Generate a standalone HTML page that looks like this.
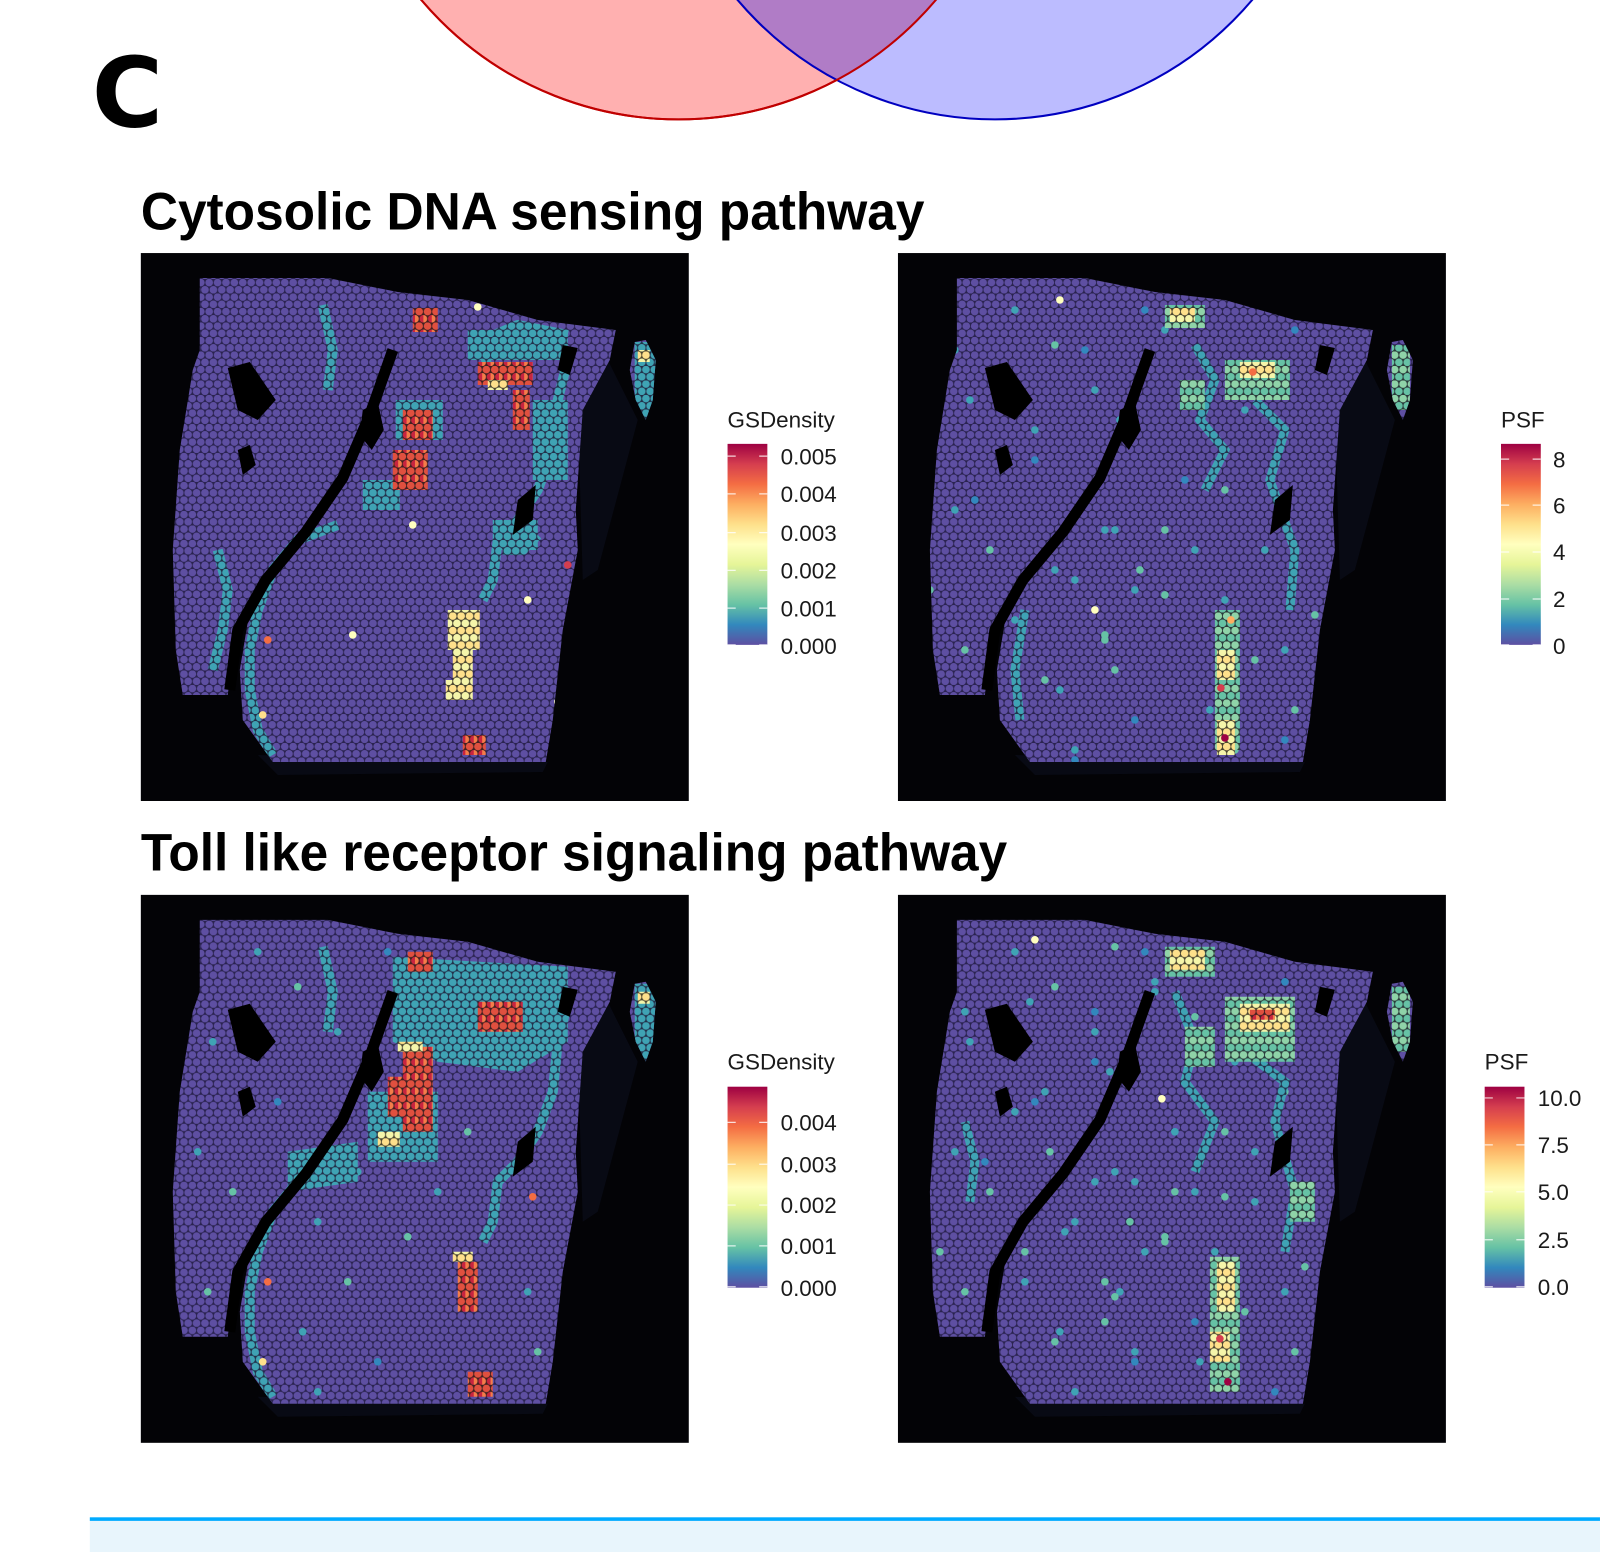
<!DOCTYPE html>
<html><head><meta charset="utf-8"><style>html,body{margin:0;padding:0;background:#fff}svg{display:block}</style></head>
<body>
<svg width="1600" height="1552" viewBox="0 0 1568 1521" xmlns="http://www.w3.org/2000/svg" font-family="Liberation Sans, Arial, sans-serif">
<defs>
<pattern id="pP" patternUnits="userSpaceOnUse" width="8.4" height="14.5"><rect width="8.4" height="14.5" fill="#2a2350"/><circle cx="4.2" cy="3.6" r="3.8" fill="#5E4FA2"/><circle cx="0" cy="10.85" r="3.8" fill="#5E4FA2"/><circle cx="8.4" cy="10.85" r="3.8" fill="#5E4FA2"/></pattern>
<pattern id="pT" patternUnits="userSpaceOnUse" width="8.4" height="14.5"><rect width="8.4" height="14.5" fill="#22304a"/><circle cx="4.2" cy="3.6" r="3.8" fill="#3FA3B4"/><circle cx="0" cy="10.85" r="3.8" fill="#3FA3B4"/><circle cx="8.4" cy="10.85" r="3.8" fill="#3FA3B4"/></pattern>
<pattern id="pG" patternUnits="userSpaceOnUse" width="8.4" height="14.5"><rect width="8.4" height="14.5" fill="#2a3a3a"/><circle cx="4.2" cy="3.6" r="3.8" fill="#8FD3A8"/><circle cx="0" cy="10.85" r="3.8" fill="#66C2A5"/><circle cx="8.4" cy="10.85" r="3.8" fill="#66C2A5"/></pattern>
<pattern id="pY" patternUnits="userSpaceOnUse" width="8.4" height="14.5"><rect width="8.4" height="14.5" fill="#4a4530"/><circle cx="4.2" cy="3.6" r="3.8" fill="#FEE08B"/><circle cx="0" cy="10.85" r="3.8" fill="#F5F5AA"/><circle cx="8.4" cy="10.85" r="3.8" fill="#F5F5AA"/></pattern>
<pattern id="pR" patternUnits="userSpaceOnUse" width="8.4" height="14.5"><rect width="8.4" height="14.5" fill="#402020"/><circle cx="4.2" cy="3.6" r="3.8" fill="#E0503F"/><circle cx="0" cy="10.85" r="3.8" fill="#F47D4A"/><circle cx="8.4" cy="10.85" r="3.8" fill="#C8243F"/></pattern>
<linearGradient id="spec" x1="0" y1="0" x2="0" y2="1">
<stop offset="0" stop-color="#9E0142"/><stop offset="0.1" stop-color="#D53E4F"/><stop offset="0.2" stop-color="#F46D43"/><stop offset="0.3" stop-color="#FDAE61"/><stop offset="0.4" stop-color="#FEE08B"/><stop offset="0.5" stop-color="#FFFFBF"/><stop offset="0.6" stop-color="#E6F598"/><stop offset="0.7" stop-color="#ABDDA4"/><stop offset="0.8" stop-color="#66C2A5"/><stop offset="0.9" stop-color="#3288BD"/><stop offset="1" stop-color="#5E4FA2"/>
</linearGradient>
<clipPath id="tc">
<path d="M62,28 L190,28 L260,42 L330,50 L400,70 L478,80 L472,110 L445,160 L438,260 L440,300 L425,380 L415,470 L408,512 L135,512 L105,470 L102,420 L112,360 L98,380 L90,445 L45,445 L38,400 L35,300 L42,200 L55,120 L62,100 Z"/>
<path d="M497,92 L508,90 L518,110 L515,150 L508,170 L498,150 L492,120 Z"/>
</clipPath>
<g id="tissue">
<path fill="#080a14" d="M120,505 L410,512 L405,522 L140,525 Z M440,160 L470,110 L500,170 L460,320 L445,330 Z"/>
<path fill="url(#pP)" d="M62,28 L190,28 L260,42 L330,50 L400,70 L478,80 L472,110 L445,160 L438,260 L440,300 L425,380 L415,470 L408,512 L135,512 L105,470 L102,420 L112,360 L98,380 L90,445 L45,445 L38,400 L35,300 L42,200 L55,120 L62,100 Z"/>
<path fill="url(#pP)" d="M497,92 L508,90 L518,110 L515,150 L508,170 L498,150 L492,120 Z"/>
</g>
<g id="holes">
<polyline fill="none" stroke="#000" stroke-width="11" stroke-linejoin="round" points="255,100 232,165 205,228 168,282 128,330 100,380 92,440"/>
<path fill="#000" d="M90,118 L112,112 L138,150 L120,170 L100,160 Z M225,160 L240,152 L246,180 L234,200 L222,185 Z M380,250 L398,235 L395,270 L375,285 Z M425,95 L440,98 L432,125 L420,120 Z M100,200 L112,195 L118,215 L105,225 Z"/>
</g>
<g id="sparse" fill="#3FA3B4">
<circle cx="120" cy="60" r="3.8"/><circle cx="160" cy="95" r="3.8" fill="#66C2A5"/><circle cx="75" cy="150" r="3.8"/><circle cx="140" cy="210" r="3.8" fill="#3288BD"/><circle cx="60" cy="260" r="3.8"/><circle cx="95" cy="300" r="3.8" fill="#66C2A5"/><circle cx="180" cy="330" r="3.8"/><circle cx="210" cy="390" r="3.8" fill="#66C2A5"/><circle cx="165" cy="440" r="3.8"/><circle cx="240" cy="470" r="3.8" fill="#3288BD"/><circle cx="300" cy="300" r="3.8"/><circle cx="270" cy="345" r="3.8" fill="#66C2A5"/><circle cx="390" cy="400" r="3.8"/><circle cx="400" cy="460" r="3.8" fill="#66C2A5"/><circle cx="200" cy="140" r="3.8"/><circle cx="180" cy="500" r="3.8"/><circle cx="70" cy="400" r="3.8" fill="#66C2A5"/><circle cx="250" cy="60" r="3.8" fill="#3288BD"/><circle cx="220" cy="280" r="3.8"/><circle cx="330" cy="240" r="3.8" fill="#66C2A5"/>
</g>
</defs>

<!-- Venn -->
<circle cx="665" cy="-213" r="330" fill="#FFB0B0" stroke="#C00000" stroke-width="2"/>
<circle cx="975" cy="-213" r="330" fill="#B0B0FF" fill-opacity="0.85" stroke="#0000C0" stroke-width="2"/>
<clipPath id="cpk"><circle cx="665" cy="-213" r="330"/></clipPath>
<circle cx="975" cy="-213" r="330" fill="#B07CC6" clip-path="url(#cpk)"/>
<circle cx="975" cy="-213" r="330" fill="none" stroke="#0000C0" stroke-width="2" clip-path="url(#cpk)"/>
<circle cx="665" cy="-213" r="330" fill="none" stroke="#C00000" stroke-width="2"/>

<text x="90" y="124" font-family="DejaVu Sans, sans-serif" font-weight="bold" font-size="95">C</text>

<text x="138" y="225" font-weight="bold" font-size="52" textLength="768" lengthAdjust="spacingAndGlyphs">Cytosolic DNA sensing pathway</text>
<text x="138" y="853" font-weight="bold" font-size="52" textLength="849" lengthAdjust="spacingAndGlyphs">Toll like receptor signaling pathway</text>

<!-- Panel 1 -->
<g transform="translate(138,248)">
<rect width="537" height="537" fill="#030306"/>
<g transform="translate(-3,-3) scale(0.98)">
<use href="#tissue"/>
<g clip-path="url(#tc)">
<g fill="none" stroke="url(#pT)" stroke-width="10" stroke-linejoin="round">
<polyline points="200,275 160,290 135,320 120,360 112,400 112,440 120,480 135,505"/>
<polyline points="80,300 90,340 85,380 75,420"/>
<polyline points="185,55 195,100 190,140"/>
<polyline points="350,120 345,90 380,75 430,85"/>
<polyline points="430,110 420,150 415,200 400,240 380,270 360,290 355,330 345,350"/>
<polyline points="365,300 385,300 400,285"/>
</g>
<path fill="url(#pT)" d="M330,80 L430,80 L430,110 L330,110 Z M395,150 L430,150 L430,230 L395,230 Z M355,270 L400,270 L400,300 L355,300 Z M258,150 L305,150 L305,190 L258,190 Z M225,230 L262,230 L262,260 L225,260 Z M497,92 L520,92 L520,170 L497,170 Z"/>
<path fill="url(#pR)" d="M275,58 L300,58 L300,82 L275,82 Z M340,112 L395,112 L395,135 L340,135 Z M375,140 L392,140 L392,180 L375,180 Z M265,160 L295,160 L295,190 L265,190 Z M255,200 L290,200 L290,240 L255,240 Z M325,485 L348,485 L348,505 L325,505 Z"/>
<path fill="url(#pY)" d="M310,360 L342,360 L342,400 L310,400 Z M315,400 L335,400 L335,430 L315,430 Z M308,430 L335,430 L335,450 L308,450 Z M442,330 L455,330 L455,365 L442,365 Z M350,130 L370,130 L370,140 L350,140 Z M500,100 L512,100 L512,112 L500,112 Z"/>
<circle cx="340" cy="57" r="3.8" fill="#FFFFBF"/><circle cx="430" cy="315" r="3.8" fill="#D53E4F"/><circle cx="390" cy="350" r="3.8" fill="#FFFFBF"/><circle cx="275" cy="275" r="3.8" fill="#FFFFBF"/><circle cx="130" cy="390" r="3.8" fill="#F46D43"/><circle cx="125" cy="465" r="3.8" fill="#FEE08B"/><circle cx="215" cy="385" r="3.8" fill="#FFFFBF"/><circle cx="420" cy="452" r="3.8" fill="#FFFFBF"/>
</g>
<use href="#holes"/>
</g>
</g>

<!-- Panel 2 -->
<g transform="translate(880,248)">
<rect width="537" height="537" fill="#030306"/>
<g transform="translate(-3,-3) scale(0.98)">
<use href="#tissue"/>
<g clip-path="url(#tc)">
<use href="#sparse"/>
<use href="#sparse" transform="translate(150,20)"/>
<use href="#sparse" transform="translate(-60,40)"/>
<g fill="none" stroke="url(#pT)" stroke-width="9">
<polyline points="300,95 320,130 305,170 330,200 310,240"/>
<polyline points="360,150 390,180 375,230 400,300 395,360"/>
<polyline points="130,360 120,420 125,470"/>
</g>
<path fill="url(#pG)" d="M270,55 L310,55 L310,78 L270,78 Z M330,110 L395,110 L395,150 L330,150 Z M285,130 L310,130 L310,160 L285,160 Z M320,360 L345,360 L345,500 L320,500 Z M497,95 L515,95 L515,160 L497,160 Z"/>
<path fill="url(#pY)" d="M275,58 L300,58 L300,72 L275,72 Z M345,112 L380,112 L380,128 L345,128 Z M322,400 L340,400 L340,430 L322,430 Z M322,470 L340,470 L340,505 L322,505 Z"/>
<circle cx="358" cy="122" r="3.8" fill="#F46D43"/><circle cx="326" cy="438" r="3.8" fill="#D53E4F"/><circle cx="330" cy="488" r="3.8" fill="#9E0142"/><circle cx="336" cy="370" r="3.8" fill="#FDAE61"/><circle cx="165" cy="50" r="3.8" fill="#FFFFBF"/><circle cx="200" cy="360" r="3.8" fill="#FFFFBF"/>
</g>
<use href="#holes"/>
</g>
</g>

<!-- Panel 3 -->
<g transform="translate(138,877)">
<rect width="537" height="537" fill="#030306"/>
<g transform="translate(-3,-3) scale(0.98)">
<use href="#tissue"/>
<g clip-path="url(#tc)">
<use href="#sparse"/>
<g fill="none" stroke="url(#pT)" stroke-width="10" stroke-linejoin="round">
<polyline points="200,275 160,290 135,320 120,360 112,400 112,440 120,480 135,505"/>
<polyline points="185,55 195,100 190,140"/>
<polyline points="430,110 420,150 415,200 400,240 380,270 360,290 355,330 345,350"/>
</g>
<path fill="url(#pT)" d="M255,65 L430,75 L430,150 L380,180 L300,170 L255,150 Z M230,200 L300,200 L300,270 L230,270 Z M150,260 L220,250 L220,290 L150,300 Z M497,92 L520,92 L520,170 L497,170 Z"/>
<path fill="url(#pR)" d="M270,60 L295,60 L295,80 L270,80 Z M340,110 L385,110 L385,140 L340,140 Z M265,155 L295,155 L295,240 L265,240 Z M250,185 L270,185 L270,225 L250,225 Z M320,370 L340,370 L340,420 L320,420 Z M330,480 L355,480 L355,505 L330,505 Z"/>
<path fill="url(#pY)" d="M260,150 L285,150 L285,160 L260,160 Z M240,240 L262,240 L262,255 L240,255 Z M315,360 L335,360 L335,370 L315,370 Z M442,315 L455,315 L455,345 L442,345 Z M500,100 L512,100 L512,112 L500,112 Z"/>
<circle cx="130" cy="390" r="3.8" fill="#F46D43"/><circle cx="125" cy="470" r="3.8" fill="#FEE08B"/><circle cx="395" cy="305" r="3.8" fill="#F46D43"/>
</g>
<use href="#holes"/>
</g>
</g>

<!-- Panel 4 -->
<g transform="translate(880,877)">
<rect width="537" height="537" fill="#030306"/>
<g transform="translate(-3,-3) scale(0.98)">
<use href="#tissue"/>
<g clip-path="url(#tc)">
<use href="#sparse"/>
<use href="#sparse" transform="translate(140,30)"/>
<use href="#sparse" transform="translate(60,-40)"/>
<use href="#sparse" transform="translate(-50,60)"/>
<g fill="none" stroke="url(#pT)" stroke-width="9">
<polyline points="280,100 300,150 290,190 320,230 300,280"/>
<polyline points="350,160 390,190 380,230 400,300 390,360"/>
<polyline points="70,230 80,270 75,310"/>
</g>
<path fill="url(#pG)" d="M270,55 L320,55 L320,85 L270,85 Z M330,105 L400,105 L400,170 L330,170 Z M290,135 L320,135 L320,175 L290,175 Z M315,365 L345,365 L345,500 L315,500 Z M395,290 L420,290 L420,330 L395,330 Z M497,95 L515,95 L515,160 L497,160 Z"/>
<path fill="url(#pY)" d="M275,58 L310,58 L310,78 L275,78 Z M345,112 L395,112 L395,140 L345,140 Z M322,370 L340,370 L340,420 L322,420 Z M315,440 L335,440 L335,470 L315,470 Z"/>
<path fill="url(#pR)" d="M355,118 L380,118 L380,128 L355,128 Z"/>
<circle cx="325" cy="447" r="3.8" fill="#D53E4F"/><circle cx="333" cy="490" r="3.8" fill="#9E0142"/><circle cx="140" cy="48" r="3.8" fill="#FFFFBF"/><circle cx="267" cy="207" r="3.8" fill="#FFFFBF"/>
</g>
<use href="#holes"/>
</g>
</g>

<!-- Legends -->
<g font-size="22" fill="#1a1a1a">
<text x="713" y="419">GSDensity</text>
<rect x="713" y="435" width="39" height="197" fill="url(#spec)"/>
<g stroke="#fff" stroke-width="1.2" opacity="0.8">
<path d="M713,447h8M744,447h8M713,484h8M744,484h8M713,522h8M744,522h8M713,559h8M744,559h8M713,596h8M744,596h8M713,632h8M744,632h8"/>
</g>
<text x="765" y="455">0.005</text><text x="765" y="492">0.004</text><text x="765" y="530">0.003</text><text x="765" y="567">0.002</text><text x="765" y="604">0.001</text><text x="765" y="641">0.000</text>

<text x="1471" y="419">PSF</text>
<rect x="1471" y="435" width="39" height="197" fill="url(#spec)"/>
<g stroke="#fff" stroke-width="1.2" opacity="0.8">
<path d="M1471,450h8M1502,450h8M1471,495h8M1502,495h8M1471,541h8M1502,541h8M1471,587h8M1502,587h8M1471,632h8M1502,632h8"/>
</g>
<text x="1522" y="458">8</text><text x="1522" y="503">6</text><text x="1522" y="549">4</text><text x="1522" y="595">2</text><text x="1522" y="641">0</text>

<text x="713" y="1048">GSDensity</text>
<rect x="713" y="1065" width="39" height="197" fill="url(#spec)"/>
<g stroke="#fff" stroke-width="1.2" opacity="0.8">
<path d="M713,1100h8M744,1100h8M713,1141h8M744,1141h8M713,1181h8M744,1181h8M713,1221h8M744,1221h8M713,1261h8M744,1261h8"/>
</g>
<text x="765" y="1108">0.004</text><text x="765" y="1149">0.003</text><text x="765" y="1189">0.002</text><text x="765" y="1229">0.001</text><text x="765" y="1270">0.000</text>

<text x="1455" y="1048">PSF</text>
<rect x="1455" y="1065" width="39" height="197" fill="url(#spec)"/>
<g stroke="#fff" stroke-width="1.2" opacity="0.8">
<path d="M1455,1076h8M1486,1076h8M1455,1122h8M1486,1122h8M1455,1168h8M1486,1168h8M1455,1215h8M1486,1215h8M1455,1261h8M1486,1261h8"/>
</g>
<text x="1507" y="1084">10.0</text><text x="1507" y="1130">7.5</text><text x="1507" y="1176">5.0</text><text x="1507" y="1223">2.5</text><text x="1507" y="1269">0.0</text>
</g>

<rect x="88" y="1490" width="1480" height="31" fill="#E8F5FC"/>
<rect x="88" y="1487" width="1480" height="3.5" fill="#00AAFF"/>
</svg>
</body></html>
